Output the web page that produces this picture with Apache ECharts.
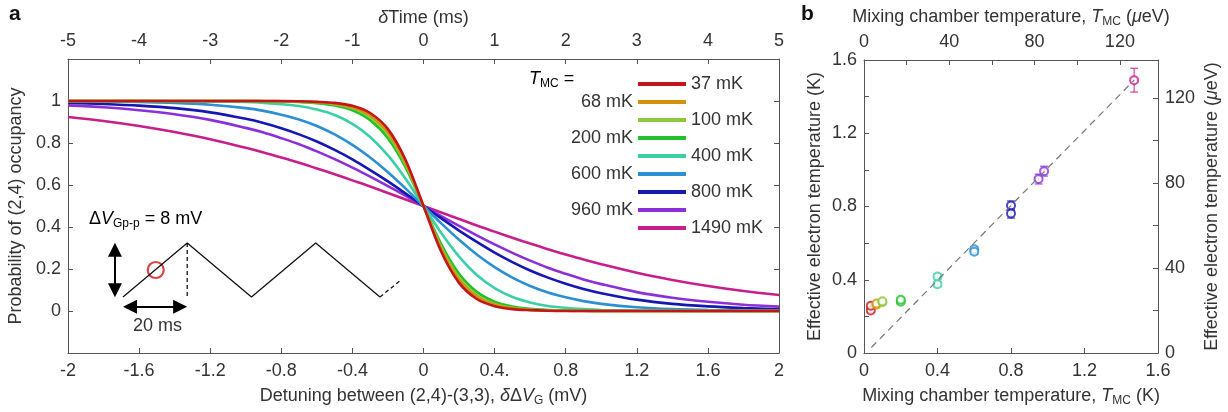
<!DOCTYPE html>
<html><head><meta charset="utf-8">
<script src="https://cdn.jsdelivr.net/npm/echarts@6/dist/echarts.min.js"></script>
<style>html,body{margin:0;padding:0;background:#fff}#c{width:1228px;height:412px}</style>
</head><body><div id="c"></div><script>
// ---------- Panel a data ----------
const X_MV = [-2,-1.8,-1.6,-1.4,-1.2,-1,-0.9,-0.8,-0.7,-0.6,-0.5,-0.4,-0.3,-0.2,-0.1,0,0.1,0.2,0.3,0.4,0.5,0.6,0.7,0.8,0.9,1,1.2,1.4,1.6,1.8,2];
const SERIES_NAMES = ['37 mK','68 mK','100 mK','200 mK','400 mK','600 mK','800 mK','960 mK','1490 mK'];
const P_37   = [1,1,1,1,1,1,1,1,0.999,0.996,0.991,0.977,0.943,0.866,0.718,0.5,0.282,0.134,0.057,0.023,0.009,0.004,0.001,0,0,0,0,0,0,0,0];
const P_68   = [1,1,1,1,1,1,1,0.999,0.998,0.995,0.987,0.970,0.931,0.851,0.705,0.5,0.295,0.149,0.069,0.030,0.013,0.005,0.002,0.001,0,0,0,0,0,0,0];
const P_100  = [1,1,1,1,1,1,0.999,0.999,0.997,0.993,0.985,0.966,0.924,0.841,0.697,0.5,0.303,0.159,0.076,0.034,0.015,0.007,0.003,0.001,0.001,0,0,0,0,0,0];
const P_200  = [1,1,1,1,1,1,0.999,0.998,0.995,0.990,0.979,0.956,0.909,0.823,0.683,0.5,0.317,0.177,0.091,0.044,0.021,0.010,0.005,0.002,0.001,0,0,0,0,0,0];
const P_400  = [1,1,1,0.999,0.998,0.995,0.991,0.985,0.976,0.959,0.933,0.891,0.829,0.741,0.629,0.5,0.371,0.259,0.171,0.109,0.067,0.041,0.024,0.015,0.009,0.005,0.002,0.001,0,0,0];
const P_600  = [0.999,0.998,0.995,0.991,0.982,0.966,0.953,0.935,0.912,0.881,0.841,0.791,0.731,0.661,0.583,0.5,0.417,0.339,0.269,0.209,0.159,0.119,0.088,0.065,0.047,0.034,0.018,0.009,0.005,0.002,0.001];
const P_800  = [0.992,0.986,0.978,0.966,0.946,0.915,0.895,0.870,0.841,0.807,0.767,0.722,0.671,0.617,0.559,0.5,0.441,0.383,0.329,0.278,0.233,0.193,0.159,0.130,0.105,0.085,0.054,0.034,0.022,0.014,0.008];
const P_960  = [0.979,0.970,0.956,0.937,0.910,0.872,0.850,0.823,0.794,0.760,0.723,0.683,0.640,0.595,0.548,0.5,0.452,0.405,0.360,0.317,0.277,0.240,0.206,0.177,0.150,0.128,0.090,0.063,0.044,0.030,0.021];
const P_1490 = [0.924,0.905,0.881,0.852,0.818,0.777,0.755,0.731,0.706,0.679,0.651,0.622,0.593,0.562,0.531,0.5,0.469,0.438,0.407,0.378,0.349,0.321,0.294,0.269,0.245,0.223,0.182,0.148,0.119,0.095,0.076];
const CURVES = [P_37,P_68,P_100,P_200,P_400,P_600,P_800,P_960,P_1490];
const LEGEND_RIGHT = ['37 mK','100 mK','400 mK','800 mK','1490 mK'];
const LEGEND_LEFT  = ['68 mK','200 mK','600 mK','960 mK'];

// inset schematic (ramp waveform), time in ms, voltage in mV
const INSET_T = [0,20,40,60,80];
const INSET_V = [-4,4,-4,4,-4];
const INSET_DASH_T = [80,86.5];
const INSET_DASH_V = [-4,-1.5];
const INSET_MARK_T = [20,20];
const INSET_MARK_V = [4,-4];
const INSET_POINT = [10.2,0];

// ---------- Panel b data ----------
const B_TMC = [0.037,0.037,0.068,0.068,0.10,0.10,0.20,0.20,0.40,0.40,0.60,0.60,0.80,0.80,0.95,0.98,1.47];
const B_TE  = [0.232,0.258,0.263,0.270,0.277,0.282,0.280,0.291,0.418,0.376,0.566,0.553,0.805,0.762,0.950,0.993,1.490];
const B_ERR = [0.010,0.010,0.010,0.010,0.010,0.010,0.012,0.012,0.015,0.015,0.015,0.015,0.025,0.025,0.027,0.027,0.065];
const B_GROUP = [0,0,1,1,2,2,3,3,4,4,5,5,6,6,7,7,8];
const DASH_X = [0.04,1.47];
const DASH_Y = [0.03,1.49];
const K_TO_UEV = 86.17;

// ---------- styles ----------
const COLORS = ['#c3161c','#d4920c','#8cc83a','#22c02a','#3ccfa6','#2b8fd4','#1616b2','#8c2fd8','#c61f8c'];
const FONT = '"Liberation Sans", Arial, sans-serif';
const TXT = '#333';
const AX = '#555';
const rich = {
  n: {fontSize:18, fontFamily:FONT, color:TXT},
  i: {fontSize:18, fontFamily:FONT, color:TXT, fontStyle:'italic'},
  s: {fontSize:12, fontFamily:FONT, color:TXT, padding:[10,0,0,0]}
};
const labelStyle = {color:TXT, fontSize:18, fontFamily:FONT};
const tick = {inside:true, length:5, lineStyle:{color:AX}};
const line = {onZero:false, lineStyle:{color:AX, width:1}};
const r1 = v => Math.round(v*10)/10;

const chart = echarts.init(document.getElementById('c'), null, {renderer:'canvas'});
const zip = (a,b) => a.map((x,i)=>[x,b[i]]);

const seriesA = CURVES.map((P,k)=>({
  name: SERIES_NAMES[k], type:'line', xAxisIndex:0, yAxisIndex:0,
  data: zip(X_MV,P), symbol:'none', smooth:0.3, z: 20-k,
  color: COLORS[k],
  lineStyle:{width:2.6, color:COLORS[k]}, itemStyle:{color:COLORS[k]}
}));

const option = {
  animation:false,
  backgroundColor:'#fff',
  grid:[
    {left:68, top:59, width:711, height:294, outerBoundsMode:'none'},
    {left:864, top:60, width:294, height:293, outerBoundsMode:'none'},
    {left:106.9, top:236.25, width:337.3, height:74.25, outerBoundsMode:'none'}
  ],
  xAxis:[
    {gridIndex:0, type:'value', position:'bottom', min:-2, max:2, interval:0.4,
     axisLine:line, axisTick:tick, splitLine:{show:false},
     axisLabel:{...labelStyle, margin:9, formatter:v=>{const r=r1(v); return r===0.4?'0.4.':String(r);}},
     name:'{n|Detuning between (2,4)-(3,3), }{i|δ}{n|Δ}{i|V}{s|G}{n| (mV)}', nameLocation:'middle', nameGap:32,
     nameTextStyle:{rich}},
    {gridIndex:0, type:'value', position:'top', min:-5, max:5, interval:1,
     axisLine:line, axisTick:tick, splitLine:{show:false},
     axisLabel:{...labelStyle, margin:9},
     name:'{i|δ}{n|Time (ms)}', nameLocation:'middle', nameGap:28, nameTextStyle:{rich}},
    {gridIndex:1, type:'value', position:'bottom', min:0, max:1.6, interval:0.4,
     axisLine:line, axisTick:tick, splitLine:{show:false},
     axisLabel:{...labelStyle, margin:9, formatter:v=>String(r1(v))},
     name:'{n|Mixing chamber temperature, }{i|T}{s|MC}{n| (K)}', nameLocation:'middle', nameGap:32,
     nameTextStyle:{rich}},
    {gridIndex:1, type:'value', position:'top', min:0, max:1.6*K_TO_UEV, interval:20,
     axisLine:line, axisTick:tick, splitLine:{show:false},
     axisLabel:{...labelStyle, margin:9, formatter:v=>(Math.abs(v%40)<1e-6?String(Math.round(v)):'')},
     name:'{n|Mixing chamber temperature, }{i|T}{s|MC}{n| (}{i|μ}{n|eV)}', nameLocation:'middle', nameGap:30,
     nameTextStyle:{rich}},
    {gridIndex:2, type:'value', min:-5, max:100, show:false}
  ],
  yAxis:[
    {gridIndex:0, type:'value', position:'left', min:-0.2, max:1.2, interval:0.2,
     axisLine:line, axisTick:tick, splitLine:{show:false},
     axisLabel:{...labelStyle, margin:7, formatter:v=>{const r=r1(v); return (r<0||r>1)?'':String(r);}},
     name:'Probability of (2,4) occupancy', nameLocation:'middle', nameGap:37,
     nameTextStyle:{...labelStyle}},
    {gridIndex:0, type:'value', position:'right', min:-0.2, max:1.2, interval:0.2,
     axisLine:line, axisTick:tick, splitLine:{show:false}, axisLabel:{show:false}},
    {gridIndex:1, type:'value', position:'left', min:0, max:1.6, interval:0.2,
     axisLine:line, axisTick:tick, splitLine:{show:false},
     axisLabel:{...labelStyle, margin:7, formatter:v=>{const r=Math.round(v*10); return r%4===0?String(r/10):'';}},
     name:'Effective electron temperature (K)', nameLocation:'middle', nameGap:40,
     nameTextStyle:{...labelStyle}},
    {gridIndex:1, type:'value', position:'right', min:0, max:1.6*K_TO_UEV, interval:20,
     axisLine:line, axisTick:tick, splitLine:{show:false},
     axisLabel:{...labelStyle, margin:7, formatter:v=>(Math.abs(v%40)<1e-6?String(Math.round(v)):'')},
     name:'{n|Effective electron temperature (}{i|μ}{n|eV)}', nameLocation:'middle', nameGap:45,
     nameRotate:90, nameTextStyle:{rich}},
    {gridIndex:2, type:'value', min:-6, max:5, show:false}
  ],
  legend:[
    {data:LEGEND_RIGHT, orient:'vertical', left:638, top:75, padding:0, itemWidth:48, itemHeight:4,
     itemGap:18, icon:'rect', selectedMode:false, itemStyle:{borderWidth:0},
     textStyle:{fontSize:18, lineHeight:18, color:TXT, fontFamily:FONT}},
    {data:LEGEND_LEFT, orient:'vertical', right:542, top:93, align:'right', padding:0, itemWidth:48, itemHeight:4,
     itemGap:18, icon:'rect', selectedMode:false, itemStyle:{borderWidth:0},
     textStyle:{fontSize:18, lineHeight:18, color:TXT, fontFamily:FONT}}
  ],
  graphic:[
    {type:'text', left:9, top:4, style:{text:'a', font:'bold 21px '+FONT, fill:'#111'}},
    {type:'text', left:801, top:4, style:{text:'b', font:'bold 21px '+FONT, fill:'#111'}},
    {type:'text', left:529, top:70, style:{text:'{i|T}{s|MC}{n| =}', rich}},
    {type:'text', left:89, top:210, style:{text:'{n|Δ}{i|V}{s|Gp-p}{n| = 8 mV}', rich}},
    {type:'text', left:133, top:317, style:{text:'20 ms', font:'18px '+FONT, fill:TXT}}
  ],
  series:[
    ...seriesA,
    {type:'line', xAxisIndex:4, yAxisIndex:4, data:zip(INSET_T,INSET_V), symbol:'none', silent:true,
     lineStyle:{color:'#111', width:1.3},
     markLine:{silent:true, symbol:['triangle','triangle'], symbolSize:[14,14], label:{show:false},
       lineStyle:{color:'#000', width:2, type:'solid'},
       data:[
         [{coord:[-2.5,3.0]},{coord:[-2.5,-3.0]}],
         [{coord:[2.2,-5.45]},{coord:[17.8,-5.45]}]
       ]}},
    {type:'line', xAxisIndex:4, yAxisIndex:4, data:zip(INSET_DASH_T,INSET_DASH_V), symbol:'none', silent:true,
     lineStyle:{color:'#111', width:1.3, type:[4,3]}},
    {type:'line', xAxisIndex:4, yAxisIndex:4, data:zip(INSET_MARK_T,INSET_MARK_V), symbol:'none', silent:true,
     lineStyle:{color:'#111', width:1.3, type:[4,3]}},
    {type:'scatter', xAxisIndex:4, yAxisIndex:4, data:[INSET_POINT], symbol:'circle', symbolSize:16, silent:true,
     itemStyle:{color:'rgba(0,0,0,0)', borderColor:'#c8141c', borderWidth:2.2}},
    // panel b
    {type:'line', xAxisIndex:2, yAxisIndex:2, data:zip(DASH_X,DASH_Y), symbol:'none', silent:true,
     lineStyle:{color:'#777', width:1.2, type:[7,5]}},
    {type:'custom', xAxisIndex:2, yAxisIndex:2, silent:true,
     data:B_TMC.map((x,i)=>[x,B_TE[i],B_ERR[i],B_GROUP[i]]),
     encode:{x:0,y:1},
     renderItem:(params,api)=>{
       const x=api.value(0), y=api.value(1), e=api.value(2), g=api.value(3);
       const p1=api.coord([x,y+e]), p2=api.coord([x,y-e]);
       const c=COLORS[g], hw=4;
       return {type:'group', children:[
         {type:'line', shape:{x1:p1[0],y1:p1[1],x2:p2[0],y2:p2[1]}, style:{stroke:c,lineWidth:1}},
         {type:'line', shape:{x1:p1[0]-hw,y1:p1[1],x2:p1[0]+hw,y2:p1[1]}, style:{stroke:c,lineWidth:1}},
         {type:'line', shape:{x1:p2[0]-hw,y1:p2[1],x2:p2[0]+hw,y2:p2[1]}, style:{stroke:c,lineWidth:1}}
       ]};
     }},
    {type:'scatter', xAxisIndex:2, yAxisIndex:2, data:zip(B_TMC,B_TE), symbol:'emptyCircle', symbolSize:8, silent:true,
     itemStyle:{color:p=>COLORS[B_GROUP[p.dataIndex]], borderColor:p=>COLORS[B_GROUP[p.dataIndex]], borderWidth:1}}
  ]
};
chart.setOption(option);
</script></body></html>
